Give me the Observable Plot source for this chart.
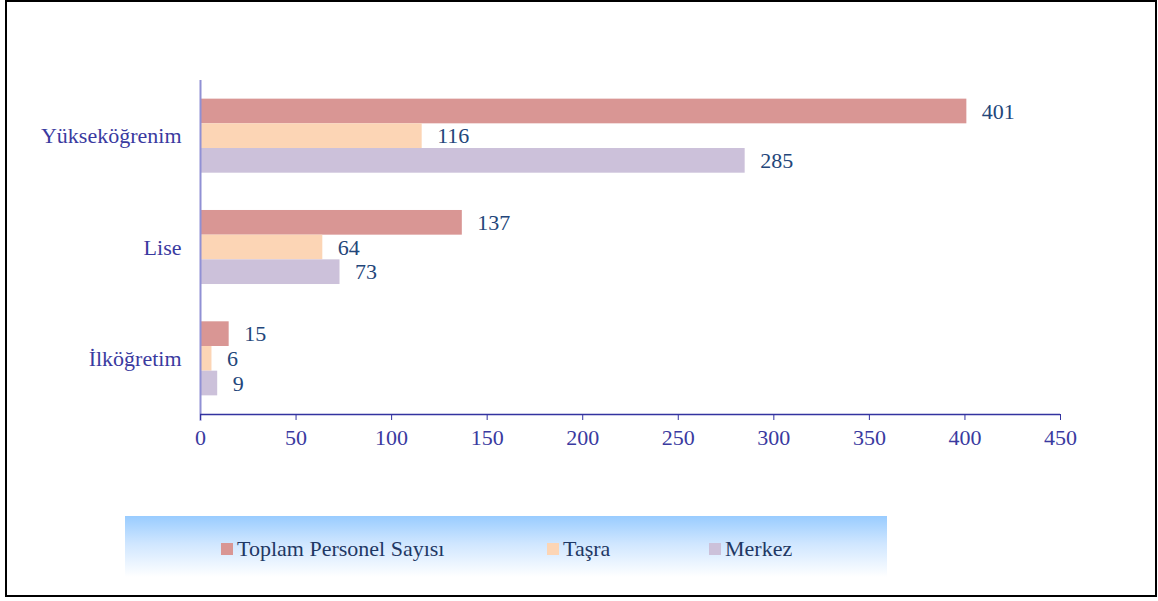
<!DOCTYPE html>
<html>
<head>
<meta charset="utf-8">
<script src="https://cdn.jsdelivr.net/npm/d3@7"></script>
<script src="https://cdn.jsdelivr.net/npm/@observablehq/plot@0.6"></script>
<style>
  html, body { margin: 0; padding: 0; background: #fff; }
  #wrap { position: relative; width: 1158px; height: 601px; overflow: hidden; font-family: "Liberation Serif", "Times New Roman", serif; }
  #chart { position: absolute; left: 0; top: 0; }
  #border { position: absolute; left: 5px; top: 0; width: 1148px; height: 593px; border: 2px solid #000; pointer-events: none; }
  #legend { position: absolute; left: 125px; top: 516px; width: 762px; height: 61px; background: linear-gradient(to bottom, #99ccff 0%, #cfe6ff 45%, #ffffff 100%); }
  .item { position: absolute; top: 22px; display: flex; align-items: center; font-size: 22px; color: #1f3864; white-space: nowrap; line-height: 22px; }
  .sw { width: 12px; height: 12px; margin-right: 4px; }
</style>
</head>
<body>
<div id="wrap">
  <div id="chart"></div>
  <div id="legend"></div>
  <div id="border"></div>
</div>
<script>
// Data
const categories = ["Yükseköğrenim", "Lise", "İlköğretim"];
const seriesNames = ["Toplam Personel Sayısı", "Taşra", "Merkez"];
const toplam = [401, 137, 15];
const tasra = [116, 64, 6];
const merkez = [285, 73, 9];
const xTicks = [0, 50, 100, 150, 200, 250, 300, 350, 400, 450];
const colors = ["#d99694", "#fcd5b5", "#ccc1da"];

const seriesValues = [toplam, tasra, merkez];
const nCat = categories.length;
const barFrac = 0.2217; // band fraction per bar
const rows = [];
categories.forEach((c, i) => {
  const base = nCat - 1 - i; // bottom of category band (linear y, up)
  seriesNames.forEach((s, j) => {
    const top = base + 0.5 + 1.5 * barFrac - j * barFrac;
    rows.push({category: c, series: s, value: seriesValues[j][i], y1: top - barFrac, y2: top, ym: top - barFrac / 2});
  });
});

const chart = Plot.plot({
  width: 1158,
  height: 601,
  marginLeft: 200,
  marginRight: 98,
  marginTop: 80,
  marginBottom: 187,
  style: {background: "transparent", fontFamily: "Liberation Serif, Times New Roman, serif", fontSize: "22px"},
  x: {domain: [0, 450], label: null},
  y: {domain: [0, nCat], label: null},
  color: {domain: seriesNames, range: colors},
  marks: [
    Plot.rectX(rows, {x1: 0, x2: "value", y1: "y1", y2: "y2", fill: "series"}),
    Plot.text(rows, {x: "value", y: "ym", text: d => String(d.value), dx: 15, textAnchor: "start", fill: "#23467a", fontSize: 22}),
    Plot.ruleX([0], {y1: -0.06, y2: nCat, stroke: "#9090d4", strokeWidth: 2}),
    Plot.ruleY([0], {x1: 0, x2: 450, stroke: "#3333a0", strokeWidth: 1.5}),
    Plot.axisX({ticks: xTicks, tickSize: 6, tickPadding: 9, stroke: "#3333a0", fill: "#3a3aa0", fontSize: 22, tickFormat: d => String(d)}),
    Plot.axisY({ticks: categories.map((c, i) => nCat - 1 - i + 0.5), tickFormat: v => categories[nCat - 1 - Math.floor(v)], tickSize: 0, tickPadding: 19, fill: "#3a3aa0", fontSize: 22})
  ]
});
document.getElementById("chart").appendChild(chart);

// Legend (HTML)
const legend = document.getElementById("legend");
const legendX = [96, 422, 584];
seriesNames.forEach((s, j) => {
  const it = document.createElement("div");
  it.className = "item";
  it.style.left = legendX[j] + "px";
  const sw = document.createElement("span");
  sw.className = "sw";
  sw.style.background = colors[j];
  const tx = document.createElement("span");
  tx.textContent = s;
  it.appendChild(sw);
  it.appendChild(tx);
  legend.appendChild(it);
});
</script>
</body>
</html>
